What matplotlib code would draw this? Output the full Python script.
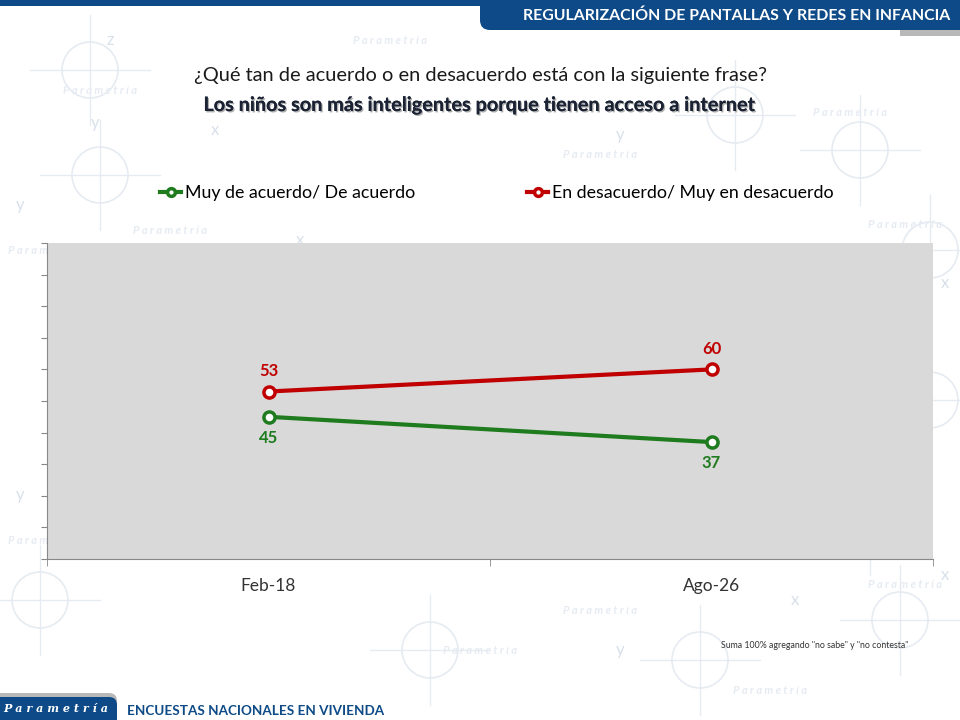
import numpy as np
import matplotlib.pyplot as plt
from matplotlib.patches import FancyBboxPatch, Rectangle, Circle
import matplotlib.patheffects as pe

plt.rcParams['font.family'] = ['Lato', 'DejaVu Sans']

# data
periods = ['Feb-18', 'Ago-26']
acuerdo = [45, 37]
desacuerdo = [53, 60]
series_names = ['Muy de acuerdo/ De acuerdo', 'En desacuerdo/ Muy en desacuerdo']

green = '#1e7b1e'
red = '#c00000'
blue = '#0d4a87'
wm = '#e6ebf2'

fig = plt.figure(figsize=(9.6, 7.2), dpi=100)

# background watermark (decoration only)
bg = fig.add_axes([0, 0, 1, 1], zorder=-10)
bg.set_xlim(0, 960)
bg.set_ylim(720, 0)
bg.axis('off')
for cx, cy in [(90, 70), (100, 175), (300, 450), (735, 115), (860, 150), (930, 250),
               (40, 600), (430, 650), (700, 660), (900, 620), (930, 400), (870, 520)]:
    bg.add_patch(Circle((cx, cy), 28, fill=False, ec=wm, lw=1.2))
    bg.plot([cx - 60, cx + 60], [cy, cy], color=wm, lw=1)
    bg.plot([cx, cx], [cy - 55, cy + 55], color=wm, lw=1)
for tx, ty in [(100, 90), (170, 230), (390, 40), (600, 155), (850, 112), (45, 250),
               (45, 540), (905, 225), (905, 585), (600, 610), (480, 650), (770, 690)]:
    bg.text(tx, ty, 'P a r a m e t r í a', color=wm, fontsize=8, style='italic',
            fontweight='bold', ha='center', va='center')
for tx, ty, s in [(110, 40, 'z'), (95, 123, 'y'), (215, 130, 'x'), (620, 135, 'y'),
                  (300, 240, 'x'), (20, 205, 'y'), (945, 283, 'x'), (20, 495, 'y'),
                  (945, 575, 'x'), (795, 600, 'x'), (620, 650, 'y')]:
    bg.text(tx, ty, s, color='#d8e0ea', fontsize=12, ha='center', va='center')

# header band
bg.add_patch(Rectangle((0, 0), 960, 6, color=blue, lw=0))
bg.add_patch(Rectangle((900, 6), 60, 30, color='#b8b8b8', lw=0))
bg.add_patch(FancyBboxPatch((480, -20), 490, 50, boxstyle='round,pad=0,rounding_size=10',
                            color=blue, lw=0))
bg.text(950, 16, 'REGULARIZACIÓN DE PANTALLAS Y REDES EN INFANCIA', color='white',
        fontsize=11.4, fontweight='bold', ha='right', va='center')

# footer
bg.add_patch(FancyBboxPatch((-20, 693), 137, 40, boxstyle='round,pad=0,rounding_size=8',
                            color='#b8b8b8', lw=0))
bg.add_patch(FancyBboxPatch((-20, 697), 137, 40, boxstyle='round,pad=0,rounding_size=8',
                            color=blue, lw=0))
bg.text(56, 708, 'P a r a m e t r í a', color='white', fontsize=8, style='italic',
        fontweight='bold', ha='center', va='center', family='DejaVu Serif')
bg.text(127, 711, 'ENCUESTAS NACIONALES EN VIVIENDA', color=blue, fontsize=9.7,
        fontweight='bold', ha='left', va='center')

# titles
fig.text(0.5, 1 - 75 / 720, '¿Qué tan de acuerdo o en desacuerdo está con la siguiente frase?',
         ha='center', va='center', fontsize=14.4, color='#1a1a1a')
fig.text(0.5, 1 - 105 / 720, 'Los niños son más inteligentes porque tienen acceso a internet',
         ha='center', va='center', fontsize=14.3, fontweight='bold', color='#1a2233',
         path_effects=[pe.withSimplePatchShadow(offset=(1, -1), shadow_rgbFace='#9a9a9a', alpha=0.8),
                       pe.Normal()])

fig.text(908 / 960, 1 - 645 / 720, 'Suma 100% agregando "no sabe" y "no contesta"',
         ha='right', va='center', fontsize=6.3, color='#333333')

# chart
ax = fig.add_axes([47 / 960, 1 - 559 / 720, 886 / 960, 316 / 720])
ax.set_facecolor('#d9d9d9')
x = np.arange(len(periods))
l1, = ax.plot(x, acuerdo, color=green, lw=3, marker='o', ms=8, mfc='white', mec=green,
              mew=2.5, label=series_names[0])
l2, = ax.plot(x, desacuerdo, color=red, lw=3, marker='o', ms=8, mfc='white', mec=red,
              mew=2.5, label=series_names[1])
for xi, v in zip(x, acuerdo):
    ax.annotate(str(v), (xi, v), xytext=(0, -15), textcoords='offset points', ha='center',
                va='center', color=green, fontsize=12, fontweight='bold')
for xi, v in zip(x, desacuerdo):
    ax.annotate(str(v), (xi, v), xytext=(0, 15), textcoords='offset points', ha='center',
                va='center', color=red, fontsize=12, fontweight='bold')

ax.set_xlim(-0.5, len(periods) - 0.5)
ax.set_ylim(0, 100)
ax.set_yticks(np.arange(0, 101, 10))
ax.set_yticklabels([])
ax.set_xticks(x)
ax.set_xticklabels(periods, fontsize=12.5, color='#333333')
ax.set_xticks(np.arange(-0.5, len(periods), 1), minor=True)
ax.tick_params(axis='x', which='major', length=0, pad=14)
ax.tick_params(axis='x', which='minor', length=5, color='#888888')
ax.tick_params(axis='y', length=4, color='#888888')
for s in ['top', 'right']:
    ax.spines[s].set_visible(False)
for s in ['left', 'bottom']:
    ax.spines[s].set_color('#888888')

fig.legend(handles=[l1, l2], loc='center left', bbox_to_anchor=(160 / 960, 1 - 193 / 720),
           ncol=2, frameon=False, fontsize=12.8, handlelength=1.2, handletextpad=0.2,
           columnspacing=6.3, markerscale=0.7, borderaxespad=0, borderpad=0)

fig.savefig('out.png', dpi=100)
